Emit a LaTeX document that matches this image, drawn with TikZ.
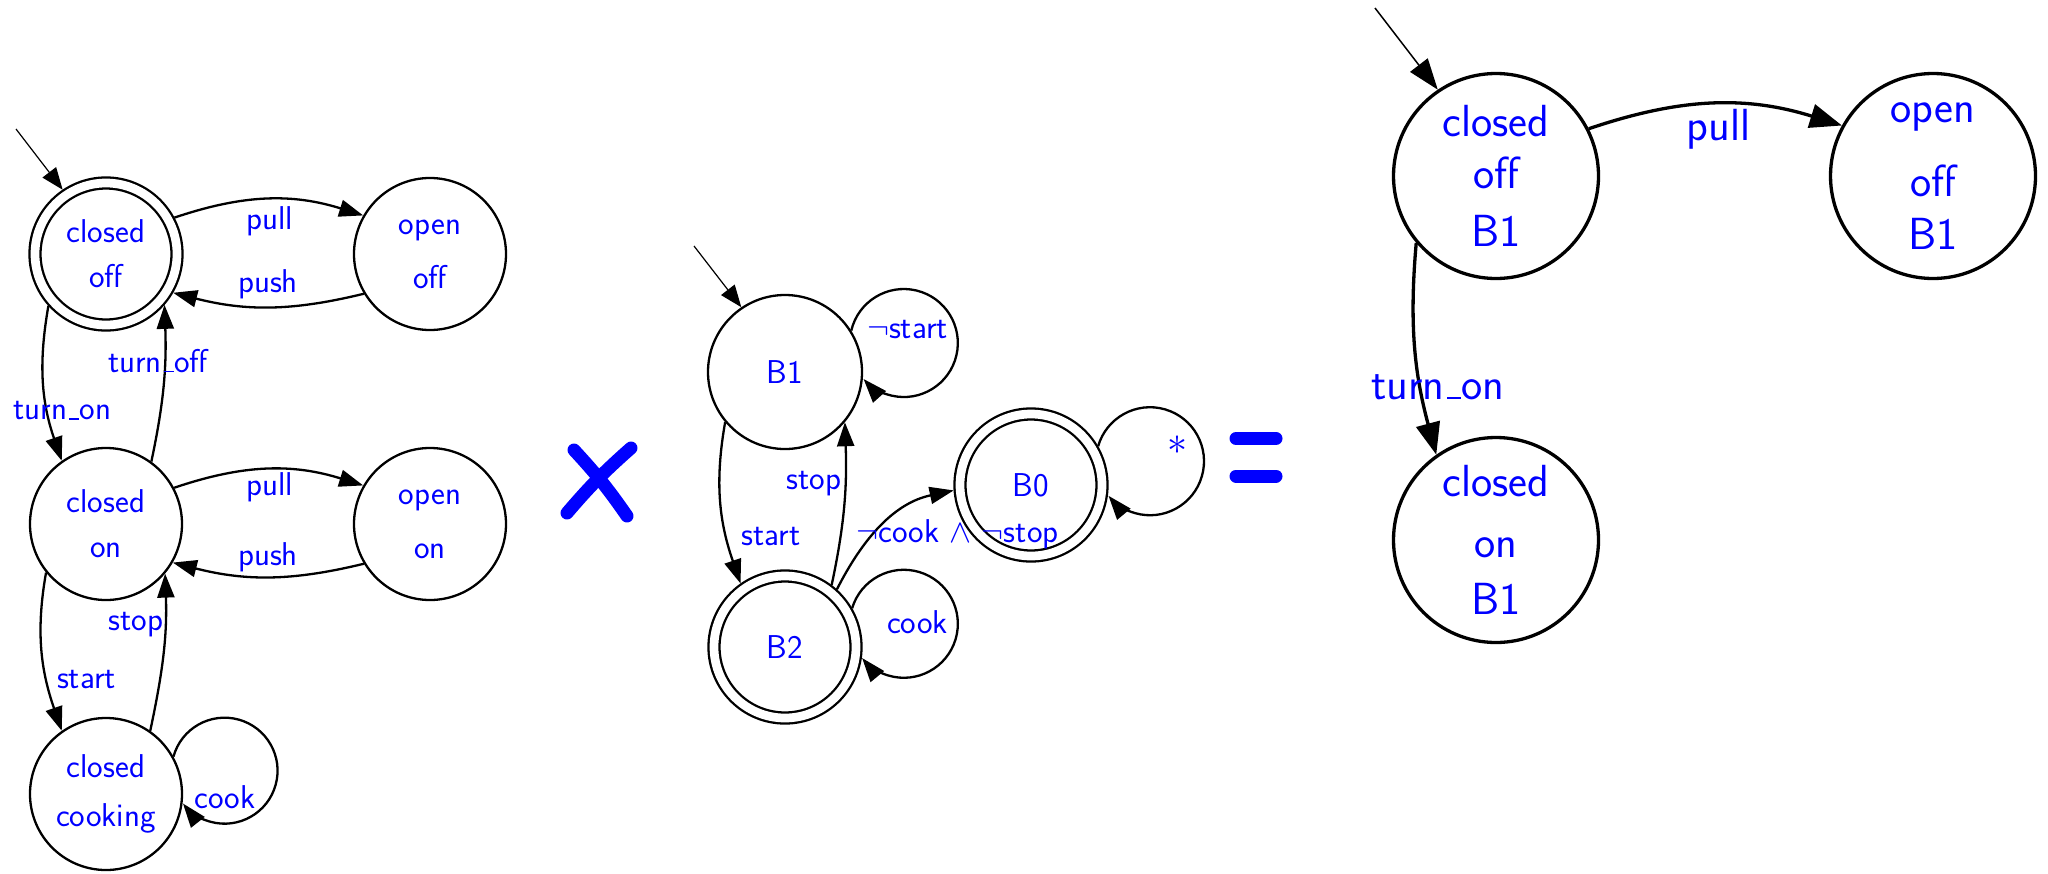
\RequirePackage{fix-cm}
\documentclass[tikz,border=0pt]{standalone}
\usetikzlibrary{arrows.meta,shapes.geometric}
\definecolor{lblue}{RGB}{0,0,255}
\newcommand{\usc}{\kern0.06em\rule{0.3em}{0.05em}\kern0.02em}
\begin{document}
\begin{tikzpicture}[x=1pt,y=1pt,
  every node/.style={font=\sffamily\fontsize{33}{40}\selectfont, text=lblue},
  st/.style={circle, draw, line width=2.3pt, minimum size=152pt, inner sep=0pt, align=center},
  acc/.style={circle, draw, double, double distance=8.7pt, line width=2.3pt, minimum size=142pt, inner sep=0pt, outer sep=6.5pt, align=center},
  rst/.style={circle, draw, line width=3.3pt, minimum size=205pt, inner sep=0pt, align=center, font=\sffamily\fontsize{45}{52}\selectfont},
  edge/.style={line width=2.3pt, -{Triangle[length=24pt,width=17pt]}},
  redge/.style={line width=3.3pt, -{Triangle[length=32pt,width=24pt]}},
  initarr/.style={line width=1.2pt, -{Triangle[length=22pt,width=17pt]}},
  rinitarr/.style={line width=1.5pt, -{Triangle[length=31pt,width=22pt]}},
  lbl/.style={inner sep=0pt},
  rlbl/.style={inner sep=0pt, font=\sffamily\fontsize{45}{52}\selectfont},
  bigsym/.style={draw=lblue, line width=13pt, line cap=round}]
\useasboundingbox (0,0) rectangle (2048,-873);

% ---------- left automaton ----------
\node[acc] (co)  at (106,-254) {closed\\[5pt]off};
\node[st]  (oo)  at (430,-254) {open\\[14pt]off};
\node[st]  (con) at (106,-524) {closed\\[5pt]on};
\node[st]  (oon) at (430,-524) {open\\[14pt]on};
\node[st]  (cc)  at (106,-794) {closed\\[9pt]cooking};
\coordinate (i1) at (16,-129);
\draw[initarr] (i1) -- (co.124);
\draw[edge] (co.28) to[bend left=18] (oo.150.3);
\draw[edge] (oo.211.5) to[bend left=14] (co.-30.6);
\draw[edge] (co.222) to[out=-100,in=109] (con.125.5);
\draw[edge] (con.54.5) to[out=78,in=-88] (co.-41);
\draw[edge] (con.28) to[bend left=18] (oon.150.3);
\draw[edge] (oon.211.5) to[bend left=14] (con.-30.6);
\draw[edge] (con.219) to[out=-100,in=109] (cc.125);
\draw[edge] (cc.55) to[out=78,in=-88] (con.-40);
\draw[edge] (cc.29.6) arc[start angle=164.6, end angle=-141.7, radius=53];
\node[lbl] (lpull1) at (270,-221) {pull};
\node[lbl] (lpush1) at (268,-284.5) {push};
\node[lbl] (lturnoff) at (158,-361) {turn\usc off};
\node[lbl] (lturnon) at (62.5,-411) {turn\usc on};
\node[lbl] (lpull2) at (270,-487) {pull};
\node[lbl] (lpush2) at (268,-557.5) {push};
\node[lbl] (lstop) at (136,-625) {stop};
\node[lbl] (lstart) at (86.5,-679) {start};
\node[lbl] (lcook) at (225,-797) {cook};

% ---------- times sign ----------
\draw[bigsym] (574,-450) to[bend left=4] (627,-516);
\draw[bigsym] (631,-448) to[bend right=4] (567,-513);

% ---------- middle automaton ----------
\node[st, minimum size=154pt] (B1) at (785,-372) {B1};
\node[acc] (B2) at (785,-647) {B2};
\node[acc] (B0) at (1031,-485) {B0};
\coordinate (i2) at (694,-246);
\draw[initarr] (i2) -- (B1.124.6);
\draw[edge] (B1.220.5) to[out=-100,in=109] (B2.125.7);
\draw[edge] (B2.53.8) to[out=78,in=-88] (B1.-40.1);
\draw[edge] (B2.48.5) to[out=63,in=192] (B0.184.9);
\draw[edge] (B1.32.9) arc[start angle=166.7, end angle=-138.2, radius=54];
\draw[edge] (B2.30.4) arc[start angle=163.3, end angle=-140.6, radius=54];
\draw[edge] (B0.30.8) arc[start angle=163.9, end angle=-140.2, radius=54];
\node[lbl] (mnstart) at (907.5,-330) {$\neg$start};
\node[lbl] (mstop) at (813.7,-484) {stop};
\node[lbl] (mstart) at (771,-536.7) {start};
\node[lbl] (mcook) at (917.5,-621.7) {cook};
\node[lbl, font=\sffamily\fontsize{40}{40}\selectfont] (mstar) at (1177.5,-445) {$*$};
\node[lbl] (mcond) at (957.5,-534) {$\neg$cook $\wedge$ $\neg$stop};

% ---------- equals sign ----------
\draw[bigsym] (1236,-438.5) -- (1276,-438.5);
\draw[bigsym] (1236,-476) -- (1276,-476);

% ---------- right automaton ----------
\node[rst] (A)  at (1496,-176) {closed\\off\\[6pt]B1};
\node[rst] (Bn) at (1933,-176) {open\\[22pt]off\\[1pt]B1};
\node[rst] (C)  at (1496,-540) {closed\\[9pt]on\\[5pt]B1};
\coordinate (i3) at (1375,-8);
\draw[rinitarr] (i3) -- (A.124.3);
\draw[redge] (A.27) to[bend left=18] (Bn.151);
\draw[redge] (A.220.3) to[out=-95,in=105] (C.125.7);
\node[rlbl] (rpull) at (1718.5,-129) {pull};
\node[rlbl] (rturnon) at (1438,-387) {turn\usc on};
\end{tikzpicture}
\end{document}
